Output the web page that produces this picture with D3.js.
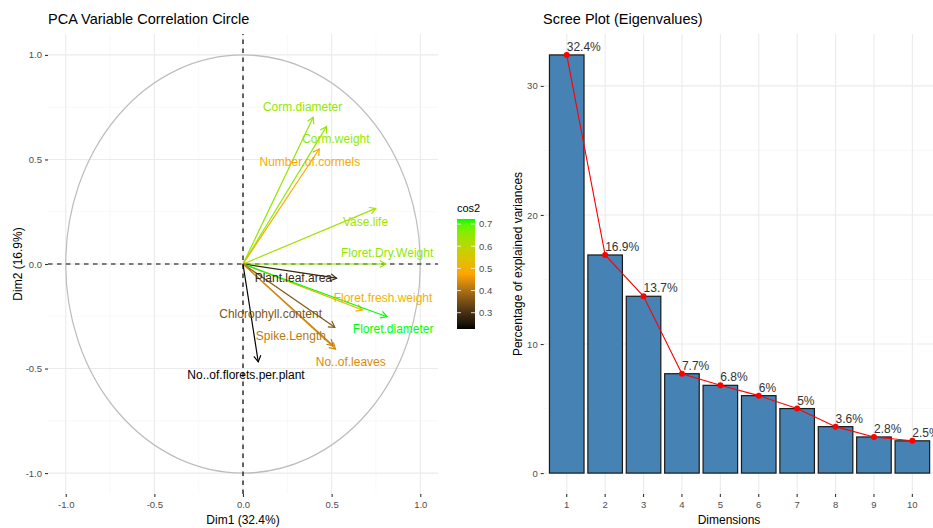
<!DOCTYPE html>
<html>
<head>
<meta charset="utf-8">
<script src="https://cdn.jsdelivr.net/npm/d3@7"></script>
<style>
  body { margin: 0; background: #fff; }
  svg { font-family: "Liberation Sans", Arial, sans-serif; }
</style>
</head>
<body>
<svg width="933" height="528"></svg>
<script>
// PCA variables (coordinates on Dim1 / Dim2)
var variables = ["Corm.diameter", "Corm.weight", "Number.of.cormels", "Vase.life",
    "Floret.Dry.Weight", "Plant.leaf.area", "Floret.fresh.weight", "Floret.diameter",
    "Chlorophyll.content", "Spike.Length", "No..of.leaves", "No..of.florets.per.plant"];
var dim1 = [0.396, 0.471, 0.430, 0.749, 0.806, 0.528, 0.674, 0.812, 0.518, 0.509, 0.522, 0.086];
var dim2 = [0.702, 0.657, 0.550, 0.266, 0.000, -0.068, -0.220, -0.252, -0.303, -0.391, -0.407, -0.468];

// scree plot
var dimensions = ["1", "2", "3", "4", "5", "6", "7", "8", "9", "10"];
var variance = [32.4, 16.9, 13.7, 7.7, 6.8, 6.0, 5.0, 3.6, 2.8, 2.5];
var varianceLabels = ["32.4%", "16.9%", "13.7%", "7.7%", "6.8%", "6%", "5%", "3.6%", "2.8%", "2.5%"];

var circleTicks = [-1.0, -0.5, 0.0, 0.5, 1.0];
var circleMinor = [-0.75, -0.25, 0.25, 0.75];
var legendTicks = [0.3, 0.4, 0.5, 0.6, 0.7];
var screeTicks = [0, 10, 20, 30];
var screeMinor = [5, 15, 25];

// label placement (repelled positions, data units)
var labelX = [0.336, 0.524, 0.377, 0.691, 0.813, 0.284, 0.790, 0.847, 0.156, 0.270, 0.608, 0.017];
var labelY = [0.750, 0.598, 0.491, 0.204, 0.053, -0.064, -0.164, -0.308, -0.239, -0.343, -0.466, -0.530];

var svg = d3.select("svg");
var gridCol = "#ebebeb", minorCol = "#f3f3f3", tickTxt = "#4d4d4d";

// ---------- left: correlation circle ----------
var x = d3.scaleLinear().domain([-1.1, 1.1]).range([48, 438]);
var y = d3.scaleLinear().domain([-1.1, 1.1]).range([494, 34]);

var left = svg.append("g");

circleMinor.forEach(function(v) {
    left.append("line").attr("x1", x(v)).attr("x2", x(v)).attr("y1", y.range()[0]).attr("y2", y.range()[1])
        .attr("stroke", minorCol).attr("stroke-width", 0.6);
    left.append("line").attr("y1", y(v)).attr("y2", y(v)).attr("x1", x.range()[0]).attr("x2", x.range()[1])
        .attr("stroke", minorCol).attr("stroke-width", 0.6);
});
circleTicks.forEach(function(v) {
    left.append("line").attr("x1", x(v)).attr("x2", x(v)).attr("y1", y.range()[0]).attr("y2", y.range()[1])
        .attr("stroke", gridCol).attr("stroke-width", 1.1);
    left.append("line").attr("y1", y(v)).attr("y2", y(v)).attr("x1", x.range()[0]).attr("x2", x.range()[1])
        .attr("stroke", gridCol).attr("stroke-width", 1.1);
});

var xAxis = left.append("g").attr("transform", "translate(0,494)")
    .call(d3.axisBottom(x).tickValues(circleTicks).tickSize(3).tickPadding(4).tickFormat(d3.format(".1f")));
var yAxis = left.append("g").attr("transform", "translate(48,0)")
    .call(d3.axisLeft(y).tickValues(circleTicks).tickSize(3).tickPadding(3).tickFormat(d3.format(".1f")));
[xAxis, yAxis].forEach(function(a) {
    a.select(".domain").remove();
    a.selectAll(".tick line").attr("stroke", "#333").attr("stroke-width", 1.1);
    a.selectAll(".tick text").attr("fill", tickTxt).style("font-size", "9.5px")
        .style("font-family", "Liberation Sans, Arial, sans-serif");
});
xAxis.selectAll(".tick text").text(function(d) { return d3.format(".1f")(d).replace("−", "-"); });
yAxis.selectAll(".tick text").text(function(d) { return d3.format(".1f")(d).replace("−", "-"); });

// unit circle
left.append("circle").attr("cx", x(0)).attr("cy", y(0))
    .attr("r", x(1) - x(0)).attr("ry", 0)
    .attr("fill", "none").attr("stroke", "#bdbdbd").attr("stroke-width", 1.2)
    .attr("transform", "translate(" + x(0) + "," + y(0) + ") scale(1," + ((y(0) - y(1)) / (x(1) - x(0))) + ") translate(" + (-x(0)) + "," + (-y(0)) + ")");

// dashed axes
left.append("line").attr("x1", x(0)).attr("x2", x(0)).attr("y1", y.range()[0]).attr("y2", y.range()[1])
    .attr("stroke", "#000").attr("stroke-width", 1.2).attr("stroke-dasharray", "4.5,4.5");
left.append("line").attr("y1", y(0)).attr("y2", y(0)).attr("x1", x.range()[0]).attr("x2", x.range()[1])
    .attr("stroke", "#000").attr("stroke-width", 1.2).attr("stroke-dasharray", "4.5,4.5");

var cos2 = dim1.map(function(d, i) { return d * d + dim2[i] * dim2[i]; });
var cext = d3.extent(cos2);
var color = d3.scaleLinear()
    .domain([cext[0], (cext[0] + cext[1]) / 2, cext[1]])
    .range(["#000000", "#ffa500", "#00ff00"])
    .interpolate(d3.interpolateLab);

var arrows = left.append("g");
variables.forEach(function(name, i) {
    var x1 = x(dim1[i]), y1 = y(dim2[i]), c = color(cos2[i]);
    var ang = Math.atan2(y1 - y(0), x1 - x(0)), L = 7, a = Math.PI / 6;
    arrows.append("line").attr("x1", x(0)).attr("y1", y(0)).attr("x2", x1).attr("y2", y1)
        .attr("stroke", c).attr("stroke-width", 1.2);
    arrows.append("path")
        .attr("d", "M" + (x1 - L * Math.cos(ang - a)) + "," + (y1 - L * Math.sin(ang - a)) +
            "L" + x1 + "," + y1 +
            "L" + (x1 - L * Math.cos(ang + a)) + "," + (y1 - L * Math.sin(ang + a)))
        .attr("fill", "none").attr("stroke", c).attr("stroke-width", 1.2);
});
variables.forEach(function(name, i) {
    arrows.append("text").attr("x", x(labelX[i])).attr("y", y(labelY[i])).attr("dy", "0.35em")
        .attr("text-anchor", "middle").attr("fill", color(cos2[i]))
        .style("font-size", "12px").text(name);
});

left.append("text").attr("x", 48).attr("y", 24).style("font-size", "14.5px").attr("fill", "#000")
    .text("PCA Variable Correlation Circle");
left.append("text").attr("x", 243).attr("y", 524).attr("text-anchor", "middle")
    .style("font-size", "12px").text("Dim1 (32.4%)");
left.append("text").attr("transform", "translate(22,264) rotate(-90)").attr("text-anchor", "middle")
    .style("font-size", "12px").text("Dim2 (16.9%)");

// colour legend
var defs = svg.append("defs");
var grad = defs.append("linearGradient").attr("id", "cgrad")
    .attr("x1", 0).attr("x2", 0).attr("y1", 1).attr("y2", 0);
d3.range(0, 1.0001, 0.05).forEach(function(t) {
    grad.append("stop").attr("offset", t)
        .attr("stop-color", color(cext[0] + t * (cext[1] - cext[0])));
});
var ly = d3.scaleLinear().domain(cext).range([329, 219]);
var leg = svg.append("g");
leg.append("text").attr("x", 457).attr("y", 212).style("font-size", "11px").text("cos2");
leg.append("rect").attr("x", 457).attr("y", 219).attr("width", 18).attr("height", 110)
    .attr("fill", "url(#cgrad)");
legendTicks.forEach(function(v) {
    leg.append("line").attr("x1", 457).attr("x2", 461).attr("y1", ly(v)).attr("y2", ly(v))
        .attr("stroke", "#fff").attr("stroke-width", 0.8);
    leg.append("line").attr("x1", 471).attr("x2", 475).attr("y1", ly(v)).attr("y2", ly(v))
        .attr("stroke", "#fff").attr("stroke-width", 0.8);
    leg.append("text").attr("x", 479).attr("y", ly(v)).attr("dy", "0.35em")
        .style("font-size", "9.5px").attr("fill", tickTxt).text(d3.format(".1f")(v));
});

// ---------- right: scree plot ----------
var xb = d3.scaleBand().domain(dimensions).range([543.7, 935.4]).paddingInner(0.1).paddingOuter(0.15);
var yb = d3.scaleLinear().domain([-1.62, 34.02]).range([494, 34]);
var right = svg.append("g");

screeMinor.forEach(function(v) {
    right.append("line").attr("x1", 543.7).attr("x2", 935.4).attr("y1", yb(v)).attr("y2", yb(v))
        .attr("stroke", minorCol).attr("stroke-width", 0.6);
});
screeTicks.forEach(function(v) {
    right.append("line").attr("x1", 543.7).attr("x2", 935.4).attr("y1", yb(v)).attr("y2", yb(v))
        .attr("stroke", gridCol).attr("stroke-width", 1.1);
});
dimensions.forEach(function(d) {
    var cx = xb(d) + xb.bandwidth() / 2;
    right.append("line").attr("x1", cx).attr("x2", cx).attr("y1", 34).attr("y2", 494)
        .attr("stroke", gridCol).attr("stroke-width", 1.1);
});

var bxAxis = right.append("g").attr("transform", "translate(0,494)")
    .call(d3.axisBottom(xb).tickSize(3).tickPadding(4));
var byAxis = right.append("g").attr("transform", "translate(543.7,0)")
    .call(d3.axisLeft(yb).tickValues(screeTicks).tickSize(3).tickPadding(3));
[bxAxis, byAxis].forEach(function(a) {
    a.select(".domain").remove();
    a.selectAll(".tick line").attr("stroke", "#333").attr("stroke-width", 1.1);
    a.selectAll(".tick text").attr("fill", tickTxt).style("font-size", "9.5px")
        .style("font-family", "Liberation Sans, Arial, sans-serif");
});

right.selectAll(".bar").data(variance).enter().append("rect")
    .attr("x", function(d, i) { return xb(dimensions[i]); })
    .attr("width", xb.bandwidth())
    .attr("y", function(d) { return yb(d); })
    .attr("height", function(d) { return yb(0) - yb(d); })
    .attr("fill", "#4682b4").attr("stroke", "#1a1a1a").attr("stroke-width", 1.2);

var line = d3.line()
    .x(function(d, i) { return xb(dimensions[i]) + xb.bandwidth() / 2; })
    .y(function(d) { return yb(d); });
right.append("path").datum(variance).attr("d", line)
    .attr("fill", "none").attr("stroke", "#ff0000").attr("stroke-width", 1.1);
right.selectAll(".pt").data(variance).enter().append("circle")
    .attr("cx", function(d, i) { return xb(dimensions[i]) + xb.bandwidth() / 2; })
    .attr("cy", function(d) { return yb(d); })
    .attr("r", 3).attr("fill", "#ff0000");
right.selectAll(".lbl").data(variance).enter().append("text")
    .attr("x", function(d, i) { return xb(dimensions[i]) + xb.bandwidth() / 2; })
    .attr("y", function(d) { return yb(d) - 4; })
    .attr("fill", "#333").style("font-size", "12px")
    .text(function(d, i) { return varianceLabels[i]; });

right.append("text").attr("x", 543).attr("y", 24).style("font-size", "14.5px")
    .text("Scree Plot (Eigenvalues)");
right.append("text").attr("x", 729).attr("y", 524).attr("text-anchor", "middle")
    .style("font-size", "12px").text("Dimensions");
right.append("text").attr("transform", "translate(522,264) rotate(-90)").attr("text-anchor", "middle")
    .style("font-size", "12px").text("Percentage of explained variances");
</script>
</body>
</html>
